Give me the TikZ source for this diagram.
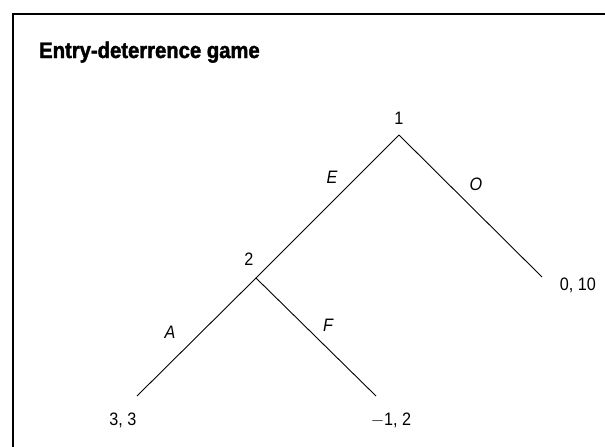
\documentclass[tikz,border=0pt]{standalone}
\usepackage{fontspec}
\setmainfont{Liberation Sans}[FakeStretch=0.9]
\newfontfamily\titlefont{Liberation Sans Bold}[FakeStretch=0.9,FakeBold=1.8]
\begin{document}
\begin{tikzpicture}[x=1pt,y=-1pt,font=\fontsize{18}{20}\selectfont]
      \tikzset{frame/.style={draw, line width=2.2pt},
        branch/.style={draw, line width=0.9pt},
        player/.style={inner sep=0pt, anchor=base},
        payoff/.style={inner sep=0pt, anchor=base},
        move/.style={inner sep=0pt, font=\fontsize{18}{20}\selectfont\itshape}}
      \clip (0,0) rectangle (605,447);
      \draw[frame] (13,470) |- (630,14);
      \node[anchor=base west, inner sep=0pt, font=\titlefont\fontsize{22.5}{25}\selectfont] (title) at (39,58) {Entry-deterrence game};
      % decision points and ends
      \coordinate (n1) at (399,135);
      \coordinate (n2) at (256,278);
      \coordinate (out) at (542,277);
      \coordinate (acc) at (137,396);
      \coordinate (fig) at (376,396);
      \node[player] (p1) at (399,124) {1};
      \node[player] (p2) at (249,265) {2};
      \draw[branch] (n1) -- (n2);
      \draw[branch] (n1) -- (out);
      \draw[branch] (n2) -- (acc);
      \draw[branch] (n2) -- (fig);
      \node[move] (mE) at (332,177) {E};
      \node[move] (mO) at (476,184) {O};
      \node[move] (mA) at (170,332) {A};
      \node[move] (mF) at (328,325) {F};
      \node[payoff] (v1) at (123,425) {3, 3};
      \node[payoff] (v2) at (391,425) {$-$1, 2};
      \node[payoff] (v3) at (578,290) {0, 10};
    \end{tikzpicture}
\end{document}
